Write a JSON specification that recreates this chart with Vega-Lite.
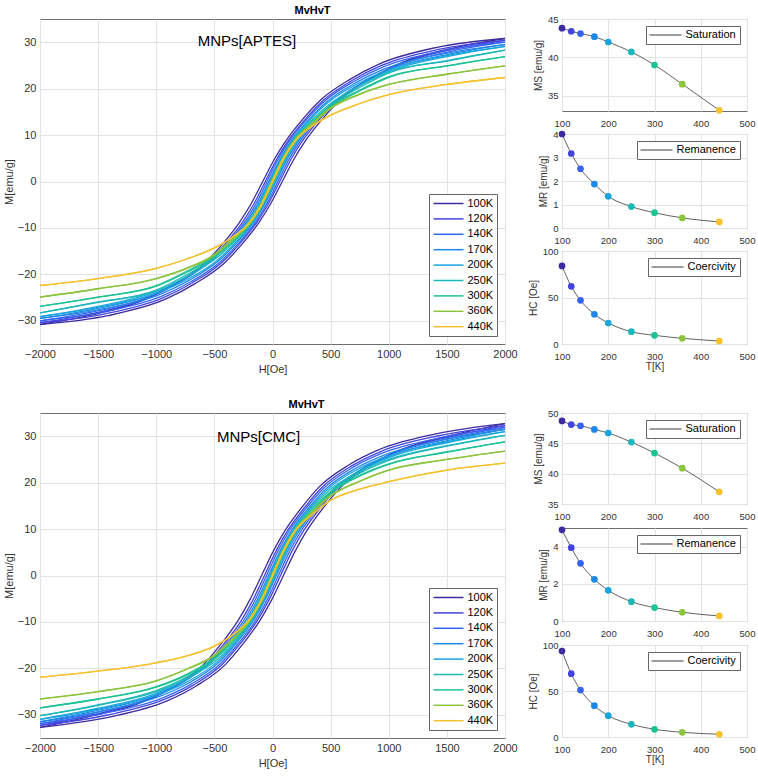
{
"$schema":"https://vega.github.io/schema/vega-lite/v6.json",
"padding":{"left":2,"top":4,"right":3,"bottom":5},
"config":{"font":"Liberation Sans","view":{"stroke":"#6e6e6e","strokeWidth":1},
"axis":{"domain":false,"ticks":false,"grid":true,"gridColor":"#e2e2e2","labelColor":"#333","titleColor":"#333","labelPadding":4,"titleFontWeight":"normal","labelFlush":false,"labelOverlap":false},
"title":{"font":"Liberation Sans"}},
"datasets":{
"par":[
{"p":"A","T":"100K","t":100,"Ms":43.8,"Mr":4.0,"Hc":84},
{"p":"A","T":"120K","t":120,"Ms":43.4,"Mr":3.17,"Hc":62},
{"p":"A","T":"140K","t":140,"Ms":43.1,"Mr":2.52,"Hc":47},
{"p":"A","T":"170K","t":170,"Ms":42.7,"Mr":1.87,"Hc":32},
{"p":"A","T":"200K","t":200,"Ms":42.0,"Mr":1.35,"Hc":22.6},
{"p":"A","T":"250K","t":250,"Ms":40.7,"Mr":0.91,"Hc":13.2},
{"p":"A","T":"300K","t":300,"Ms":39.0,"Mr":0.65,"Hc":9.3},
{"p":"A","T":"360K","t":360,"Ms":36.5,"Mr":0.43,"Hc":6.1},
{"p":"A","T":"440K","t":440,"Ms":33.1,"Mr":0.26,"Hc":3.2},
{"p":"B","T":"100K","t":100,"Ms":48.7,"Mr":4.9,"Hc":93.5},
{"p":"B","T":"120K","t":120,"Ms":48.1,"Mr":3.94,"Hc":68.8},
{"p":"B","T":"140K","t":140,"Ms":47.9,"Mr":3.1,"Hc":51},
{"p":"B","T":"170K","t":170,"Ms":47.3,"Mr":2.24,"Hc":34},
{"p":"B","T":"200K","t":200,"Ms":46.7,"Mr":1.65,"Hc":23.2},
{"p":"B","T":"250K","t":250,"Ms":45.2,"Mr":1.04,"Hc":13.8},
{"p":"B","T":"300K","t":300,"Ms":43.4,"Mr":0.72,"Hc":8.4},
{"p":"B","T":"360K","t":360,"Ms":40.9,"Mr":0.47,"Hc":5.1},
{"p":"B","T":"440K","t":440,"Ms":37.0,"Mr":0.27,"Hc":3.0}
],
"loops":[
{"p":"A","T":"100K","M":-30.8,"u":-2000,"d":-2000},{"p":"A","T":"100K","M":-28.9,"u":-1416,"d":-1584},{"p":"A","T":"100K","M":-25.3,"u":-916,"d":-1084},{"p":"A","T":"100K","M":-22,"u":-666,"d":-834},{"p":"A","T":"100K","M":-17.6,"u":-416,"d":-584},{"p":"A","T":"100K","M":-13.6,"u":-266,"d":-434},{"p":"A","T":"100K","M":-8.8,"u":-116,"d":-284},{"p":"A","T":"100K","M":-4.8,"u":-16,"d":-184},{"p":"A","T":"100K","M":0,"u":84,"d":-84},{"p":"A","T":"100K","M":4.8,"u":184,"d":16},{"p":"A","T":"100K","M":8.8,"u":284,"d":116},{"p":"A","T":"100K","M":13.6,"u":434,"d":266},{"p":"A","T":"100K","M":17.6,"u":584,"d":416},{"p":"A","T":"100K","M":22,"u":834,"d":666},{"p":"A","T":"100K","M":25.3,"u":1084,"d":916},{"p":"A","T":"100K","M":28.9,"u":1584,"d":1416},{"p":"A","T":"100K","M":30.8,"u":2000,"d":2000},
{"p":"A","T":"120K","M":-30.4,"u":-2000,"d":-2000},{"p":"A","T":"120K","M":-28.5,"u":-1438,"d":-1562},{"p":"A","T":"120K","M":-25,"u":-938,"d":-1062},{"p":"A","T":"120K","M":-21.8,"u":-688,"d":-812},{"p":"A","T":"120K","M":-17.5,"u":-438,"d":-562},{"p":"A","T":"120K","M":-13.6,"u":-288,"d":-412},{"p":"A","T":"120K","M":-8.9,"u":-138,"d":-262},{"p":"A","T":"120K","M":-4.9,"u":-38,"d":-162},{"p":"A","T":"120K","M":0,"u":62,"d":-62},{"p":"A","T":"120K","M":4.9,"u":162,"d":38},{"p":"A","T":"120K","M":8.9,"u":262,"d":138},{"p":"A","T":"120K","M":13.6,"u":412,"d":288},{"p":"A","T":"120K","M":17.5,"u":562,"d":438},{"p":"A","T":"120K","M":21.8,"u":812,"d":688},{"p":"A","T":"120K","M":25,"u":1062,"d":938},{"p":"A","T":"120K","M":28.5,"u":1562,"d":1438},{"p":"A","T":"120K","M":30.4,"u":2000,"d":2000},
{"p":"A","T":"140K","M":-30,"u":-2000,"d":-2000},{"p":"A","T":"140K","M":-28.1,"u":-1453,"d":-1547},{"p":"A","T":"140K","M":-24.7,"u":-953,"d":-1047},{"p":"A","T":"140K","M":-21.6,"u":-703,"d":-797},{"p":"A","T":"140K","M":-17.4,"u":-453,"d":-547},{"p":"A","T":"140K","M":-13.6,"u":-303,"d":-397},{"p":"A","T":"140K","M":-9,"u":-153,"d":-247},{"p":"A","T":"140K","M":-5,"u":-53,"d":-147},{"p":"A","T":"140K","M":0,"u":47,"d":-47},{"p":"A","T":"140K","M":5,"u":147,"d":53},{"p":"A","T":"140K","M":9,"u":247,"d":153},{"p":"A","T":"140K","M":13.6,"u":397,"d":303},{"p":"A","T":"140K","M":17.4,"u":547,"d":453},{"p":"A","T":"140K","M":21.6,"u":797,"d":703},{"p":"A","T":"140K","M":24.7,"u":1047,"d":953},{"p":"A","T":"140K","M":28.1,"u":1547,"d":1453},{"p":"A","T":"140K","M":30,"u":2000,"d":2000},
{"p":"A","T":"170K","M":-29.5,"u":-2000,"d":-2000},{"p":"A","T":"170K","M":-27.5,"u":-1468,"d":-1532},{"p":"A","T":"170K","M":-24.3,"u":-968,"d":-1032},{"p":"A","T":"170K","M":-21.3,"u":-718,"d":-782},{"p":"A","T":"170K","M":-17.2,"u":-468,"d":-532},{"p":"A","T":"170K","M":-13.5,"u":-318,"d":-382},{"p":"A","T":"170K","M":-9,"u":-168,"d":-232},{"p":"A","T":"170K","M":-5,"u":-68,"d":-132},{"p":"A","T":"170K","M":0,"u":32,"d":-32},{"p":"A","T":"170K","M":5,"u":132,"d":68},{"p":"A","T":"170K","M":9,"u":232,"d":168},{"p":"A","T":"170K","M":13.5,"u":382,"d":318},{"p":"A","T":"170K","M":17.2,"u":532,"d":468},{"p":"A","T":"170K","M":21.3,"u":782,"d":718},{"p":"A","T":"170K","M":24.3,"u":1032,"d":968},{"p":"A","T":"170K","M":27.5,"u":1532,"d":1468},{"p":"A","T":"170K","M":29.5,"u":2000,"d":2000},
{"p":"A","T":"200K","M":-29.1,"u":-2000,"d":-2000},{"p":"A","T":"200K","M":-27,"u":-1477,"d":-1523},{"p":"A","T":"200K","M":-23.9,"u":-977,"d":-1023},{"p":"A","T":"200K","M":-21,"u":-727,"d":-773},{"p":"A","T":"200K","M":-17,"u":-477,"d":-523},{"p":"A","T":"200K","M":-13.4,"u":-327,"d":-373},{"p":"A","T":"200K","M":-9.1,"u":-177,"d":-223},{"p":"A","T":"200K","M":-5.1,"u":-77,"d":-123},{"p":"A","T":"200K","M":0,"u":23,"d":-23},{"p":"A","T":"200K","M":5.1,"u":123,"d":77},{"p":"A","T":"200K","M":9.1,"u":223,"d":177},{"p":"A","T":"200K","M":13.4,"u":373,"d":327},{"p":"A","T":"200K","M":17,"u":523,"d":477},{"p":"A","T":"200K","M":21,"u":773,"d":727},{"p":"A","T":"200K","M":23.9,"u":1023,"d":977},{"p":"A","T":"200K","M":27,"u":1523,"d":1477},{"p":"A","T":"200K","M":29.1,"u":2000,"d":2000},
{"p":"A","T":"250K","M":-28.3,"u":-2000,"d":-2000},{"p":"A","T":"250K","M":-26,"u":-1487,"d":-1513},{"p":"A","T":"250K","M":-23.5,"u":-987,"d":-1013},{"p":"A","T":"250K","M":-20.4,"u":-737,"d":-763},{"p":"A","T":"250K","M":-16.6,"u":-487,"d":-513},{"p":"A","T":"250K","M":-13.2,"u":-337,"d":-363},{"p":"A","T":"250K","M":-9.1,"u":-187,"d":-213},{"p":"A","T":"250K","M":-5.1,"u":-87,"d":-113},{"p":"A","T":"250K","M":0,"u":13,"d":-13},{"p":"A","T":"250K","M":5.1,"u":113,"d":87},{"p":"A","T":"250K","M":9.1,"u":213,"d":187},{"p":"A","T":"250K","M":13.2,"u":363,"d":337},{"p":"A","T":"250K","M":16.6,"u":513,"d":487},{"p":"A","T":"250K","M":20.4,"u":763,"d":737},{"p":"A","T":"250K","M":23.5,"u":1013,"d":987},{"p":"A","T":"250K","M":26,"u":1513,"d":1487},{"p":"A","T":"250K","M":28.3,"u":2000,"d":2000},
{"p":"A","T":"300K","M":-26.9,"u":-2000,"d":-2000},{"p":"A","T":"300K","M":-24.9,"u":-1491,"d":-1509},{"p":"A","T":"300K","M":-22.5,"u":-991,"d":-1009},{"p":"A","T":"300K","M":-19.6,"u":-741,"d":-759},{"p":"A","T":"300K","M":-16.1,"u":-491,"d":-509},{"p":"A","T":"300K","M":-13,"u":-341,"d":-359},{"p":"A","T":"300K","M":-9.1,"u":-191,"d":-209},{"p":"A","T":"300K","M":-5.2,"u":-91,"d":-109},{"p":"A","T":"300K","M":0,"u":9,"d":-9},{"p":"A","T":"300K","M":5.2,"u":109,"d":91},{"p":"A","T":"300K","M":9.1,"u":209,"d":191},{"p":"A","T":"300K","M":13,"u":359,"d":341},{"p":"A","T":"300K","M":16.1,"u":509,"d":491},{"p":"A","T":"300K","M":19.6,"u":759,"d":741},{"p":"A","T":"300K","M":22.5,"u":1009,"d":991},{"p":"A","T":"300K","M":24.9,"u":1509,"d":1491},{"p":"A","T":"300K","M":26.9,"u":2000,"d":2000},
{"p":"A","T":"360K","M":-24.9,"u":-2000,"d":-2000},{"p":"A","T":"360K","M":-23.1,"u":-1494,"d":-1506},{"p":"A","T":"360K","M":-20.9,"u":-994,"d":-1006},{"p":"A","T":"360K","M":-18.8,"u":-744,"d":-756},{"p":"A","T":"360K","M":-15.8,"u":-494,"d":-506},{"p":"A","T":"360K","M":-12.6,"u":-344,"d":-356},{"p":"A","T":"360K","M":-9,"u":-194,"d":-206},{"p":"A","T":"360K","M":-5.2,"u":-94,"d":-106},{"p":"A","T":"360K","M":0,"u":6,"d":-6},{"p":"A","T":"360K","M":5.2,"u":106,"d":94},{"p":"A","T":"360K","M":9,"u":206,"d":194},{"p":"A","T":"360K","M":12.6,"u":356,"d":344},{"p":"A","T":"360K","M":15.8,"u":506,"d":494},{"p":"A","T":"360K","M":18.8,"u":756,"d":744},{"p":"A","T":"360K","M":20.9,"u":1006,"d":994},{"p":"A","T":"360K","M":23.1,"u":1506,"d":1494},{"p":"A","T":"360K","M":24.9,"u":2000,"d":2000},
{"p":"A","T":"440K","M":-22.4,"u":-2000,"d":-2000},{"p":"A","T":"440K","M":-20.9,"u":-1497,"d":-1503},{"p":"A","T":"440K","M":-18.7,"u":-997,"d":-1003},{"p":"A","T":"440K","M":-16.8,"u":-747,"d":-753},{"p":"A","T":"440K","M":-14.3,"u":-497,"d":-503},{"p":"A","T":"440K","M":-12.1,"u":-347,"d":-353},{"p":"A","T":"440K","M":-8.9,"u":-197,"d":-203},{"p":"A","T":"440K","M":-5.2,"u":-97,"d":-103},{"p":"A","T":"440K","M":0,"u":3,"d":-3},{"p":"A","T":"440K","M":5.2,"u":103,"d":97},{"p":"A","T":"440K","M":8.9,"u":203,"d":197},{"p":"A","T":"440K","M":12.1,"u":353,"d":347},{"p":"A","T":"440K","M":14.3,"u":503,"d":497},{"p":"A","T":"440K","M":16.8,"u":753,"d":747},{"p":"A","T":"440K","M":18.7,"u":1003,"d":997},{"p":"A","T":"440K","M":20.9,"u":1503,"d":1497},{"p":"A","T":"440K","M":22.4,"u":2000,"d":2000},
{"p":"B","T":"100K","M":-32.7,"u":-2000,"d":-2000},{"p":"B","T":"100K","M":-30.5,"u":-1406,"d":-1594},{"p":"B","T":"100K","M":-27,"u":-906,"d":-1094},{"p":"B","T":"100K","M":-23.8,"u":-656,"d":-844},{"p":"B","T":"100K","M":-19.2,"u":-406,"d":-594},{"p":"B","T":"100K","M":-14.8,"u":-256,"d":-444},{"p":"B","T":"100K","M":-9.6,"u":-106,"d":-294},{"p":"B","T":"100K","M":-5.2,"u":-6,"d":-194},{"p":"B","T":"100K","M":0,"u":94,"d":-94},{"p":"B","T":"100K","M":5.2,"u":194,"d":6},{"p":"B","T":"100K","M":9.6,"u":294,"d":106},{"p":"B","T":"100K","M":14.8,"u":444,"d":256},{"p":"B","T":"100K","M":19.2,"u":594,"d":406},{"p":"B","T":"100K","M":23.8,"u":844,"d":656},{"p":"B","T":"100K","M":27,"u":1094,"d":906},{"p":"B","T":"100K","M":30.5,"u":1594,"d":1406},{"p":"B","T":"100K","M":32.7,"u":2000,"d":2000},
{"p":"B","T":"120K","M":-32.3,"u":-2000,"d":-2000},{"p":"B","T":"120K","M":-30.1,"u":-1431,"d":-1569},{"p":"B","T":"120K","M":-26.7,"u":-931,"d":-1069},{"p":"B","T":"120K","M":-23.6,"u":-681,"d":-819},{"p":"B","T":"120K","M":-19.1,"u":-431,"d":-569},{"p":"B","T":"120K","M":-14.8,"u":-281,"d":-419},{"p":"B","T":"120K","M":-9.7,"u":-131,"d":-269},{"p":"B","T":"120K","M":-5.3,"u":-31,"d":-169},{"p":"B","T":"120K","M":0,"u":69,"d":-69},{"p":"B","T":"120K","M":5.3,"u":169,"d":31},{"p":"B","T":"120K","M":9.7,"u":269,"d":131},{"p":"B","T":"120K","M":14.8,"u":419,"d":281},{"p":"B","T":"120K","M":19.1,"u":569,"d":431},{"p":"B","T":"120K","M":23.6,"u":819,"d":681},{"p":"B","T":"120K","M":26.7,"u":1069,"d":931},{"p":"B","T":"120K","M":30.1,"u":1569,"d":1431},{"p":"B","T":"120K","M":32.3,"u":2000,"d":2000},
{"p":"B","T":"140K","M":-31.9,"u":-2000,"d":-2000},{"p":"B","T":"140K","M":-29.7,"u":-1449,"d":-1551},{"p":"B","T":"140K","M":-26.4,"u":-949,"d":-1051},{"p":"B","T":"140K","M":-23.4,"u":-699,"d":-801},{"p":"B","T":"140K","M":-19,"u":-449,"d":-551},{"p":"B","T":"140K","M":-14.8,"u":-299,"d":-401},{"p":"B","T":"140K","M":-9.8,"u":-149,"d":-251},{"p":"B","T":"140K","M":-5.4,"u":-49,"d":-151},{"p":"B","T":"140K","M":0,"u":51,"d":-51},{"p":"B","T":"140K","M":5.4,"u":151,"d":49},{"p":"B","T":"140K","M":9.8,"u":251,"d":149},{"p":"B","T":"140K","M":14.8,"u":401,"d":299},{"p":"B","T":"140K","M":19,"u":551,"d":449},{"p":"B","T":"140K","M":23.4,"u":801,"d":699},{"p":"B","T":"140K","M":26.4,"u":1051,"d":949},{"p":"B","T":"140K","M":29.7,"u":1551,"d":1449},{"p":"B","T":"140K","M":31.9,"u":2000,"d":2000},
{"p":"B","T":"170K","M":-31.5,"u":-2000,"d":-2000},{"p":"B","T":"170K","M":-29.2,"u":-1466,"d":-1534},{"p":"B","T":"170K","M":-26,"u":-966,"d":-1034},{"p":"B","T":"170K","M":-23.1,"u":-716,"d":-784},{"p":"B","T":"170K","M":-18.8,"u":-466,"d":-534},{"p":"B","T":"170K","M":-14.7,"u":-316,"d":-384},{"p":"B","T":"170K","M":-9.8,"u":-166,"d":-234},{"p":"B","T":"170K","M":-5.4,"u":-66,"d":-134},{"p":"B","T":"170K","M":0,"u":34,"d":-34},{"p":"B","T":"170K","M":5.4,"u":134,"d":66},{"p":"B","T":"170K","M":9.8,"u":234,"d":166},{"p":"B","T":"170K","M":14.7,"u":384,"d":316},{"p":"B","T":"170K","M":18.8,"u":534,"d":466},{"p":"B","T":"170K","M":23.1,"u":784,"d":716},{"p":"B","T":"170K","M":26,"u":1034,"d":966},{"p":"B","T":"170K","M":29.2,"u":1534,"d":1466},{"p":"B","T":"170K","M":31.5,"u":2000,"d":2000},
{"p":"B","T":"200K","M":-31,"u":-2000,"d":-2000},{"p":"B","T":"200K","M":-28.7,"u":-1477,"d":-1523},{"p":"B","T":"200K","M":-25.6,"u":-977,"d":-1023},{"p":"B","T":"200K","M":-22.8,"u":-727,"d":-773},{"p":"B","T":"200K","M":-18.6,"u":-477,"d":-523},{"p":"B","T":"200K","M":-14.6,"u":-327,"d":-373},{"p":"B","T":"200K","M":-9.9,"u":-177,"d":-223},{"p":"B","T":"200K","M":-5.5,"u":-77,"d":-123},{"p":"B","T":"200K","M":0,"u":23,"d":-23},{"p":"B","T":"200K","M":5.5,"u":123,"d":77},{"p":"B","T":"200K","M":9.9,"u":223,"d":177},{"p":"B","T":"200K","M":14.6,"u":373,"d":327},{"p":"B","T":"200K","M":18.6,"u":523,"d":477},{"p":"B","T":"200K","M":22.8,"u":773,"d":727},{"p":"B","T":"200K","M":25.6,"u":1023,"d":977},{"p":"B","T":"200K","M":28.7,"u":1523,"d":1477},{"p":"B","T":"200K","M":31,"u":2000,"d":2000},
{"p":"B","T":"250K","M":-30.2,"u":-2000,"d":-2000},{"p":"B","T":"250K","M":-27.9,"u":-1486,"d":-1514},{"p":"B","T":"250K","M":-24.9,"u":-986,"d":-1014},{"p":"B","T":"250K","M":-22.2,"u":-736,"d":-764},{"p":"B","T":"250K","M":-18.3,"u":-486,"d":-514},{"p":"B","T":"250K","M":-14.5,"u":-336,"d":-364},{"p":"B","T":"250K","M":-9.9,"u":-186,"d":-214},{"p":"B","T":"250K","M":-5.5,"u":-86,"d":-114},{"p":"B","T":"250K","M":0,"u":14,"d":-14},{"p":"B","T":"250K","M":5.5,"u":114,"d":86},{"p":"B","T":"250K","M":9.9,"u":214,"d":186},{"p":"B","T":"250K","M":14.5,"u":364,"d":336},{"p":"B","T":"250K","M":18.3,"u":514,"d":486},{"p":"B","T":"250K","M":22.2,"u":764,"d":736},{"p":"B","T":"250K","M":24.9,"u":1014,"d":986},{"p":"B","T":"250K","M":27.9,"u":1514,"d":1486},{"p":"B","T":"250K","M":30.2,"u":2000,"d":2000},
{"p":"B","T":"300K","M":-28.5,"u":-2000,"d":-2000},{"p":"B","T":"300K","M":-26.6,"u":-1492,"d":-1508},{"p":"B","T":"300K","M":-24,"u":-992,"d":-1008},{"p":"B","T":"300K","M":-21.5,"u":-742,"d":-758},{"p":"B","T":"300K","M":-17.9,"u":-492,"d":-508},{"p":"B","T":"300K","M":-14.3,"u":-342,"d":-358},{"p":"B","T":"300K","M":-9.9,"u":-192,"d":-208},{"p":"B","T":"300K","M":-5.6,"u":-92,"d":-108},{"p":"B","T":"300K","M":0,"u":8,"d":-8},{"p":"B","T":"300K","M":5.6,"u":108,"d":92},{"p":"B","T":"300K","M":9.9,"u":208,"d":192},{"p":"B","T":"300K","M":14.3,"u":358,"d":342},{"p":"B","T":"300K","M":17.9,"u":508,"d":492},{"p":"B","T":"300K","M":21.5,"u":758,"d":742},{"p":"B","T":"300K","M":24,"u":1008,"d":992},{"p":"B","T":"300K","M":26.6,"u":1508,"d":1492},{"p":"B","T":"300K","M":28.8,"u":2000,"d":2000},
{"p":"B","T":"360K","M":-26.6,"u":-2000,"d":-2000},{"p":"B","T":"360K","M":-25,"u":-1495,"d":-1505},{"p":"B","T":"360K","M":-22.7,"u":-995,"d":-1005},{"p":"B","T":"360K","M":-20.3,"u":-745,"d":-755},{"p":"B","T":"360K","M":-17.2,"u":-495,"d":-505},{"p":"B","T":"360K","M":-13.9,"u":-345,"d":-355},{"p":"B","T":"360K","M":-9.8,"u":-195,"d":-205},{"p":"B","T":"360K","M":-5.6,"u":-95,"d":-105},{"p":"B","T":"360K","M":0,"u":5,"d":-5},{"p":"B","T":"360K","M":5.6,"u":105,"d":95},{"p":"B","T":"360K","M":9.8,"u":205,"d":195},{"p":"B","T":"360K","M":13.9,"u":355,"d":345},{"p":"B","T":"360K","M":17.2,"u":505,"d":495},{"p":"B","T":"360K","M":20.3,"u":755,"d":745},{"p":"B","T":"360K","M":22.7,"u":1005,"d":995},{"p":"B","T":"360K","M":25,"u":1505,"d":1495},{"p":"B","T":"360K","M":26.8,"u":2000,"d":2000},
{"p":"B","T":"440K","M":-21.9,"u":-2000,"d":-2000},{"p":"B","T":"440K","M":-20.6,"u":-1497,"d":-1503},{"p":"B","T":"440K","M":-18.8,"u":-997,"d":-1003},{"p":"B","T":"440K","M":-17.4,"u":-747,"d":-753},{"p":"B","T":"440K","M":-15.2,"u":-497,"d":-503},{"p":"B","T":"440K","M":-12.9,"u":-347,"d":-353},{"p":"B","T":"440K","M":-9.5,"u":-197,"d":-203},{"p":"B","T":"440K","M":-5.5,"u":-97,"d":-103},{"p":"B","T":"440K","M":0,"u":3,"d":-3},{"p":"B","T":"440K","M":5.6,"u":103,"d":97},{"p":"B","T":"440K","M":9.8,"u":203,"d":197},{"p":"B","T":"440K","M":13.3,"u":353,"d":347},{"p":"B","T":"440K","M":16.2,"u":503,"d":497},{"p":"B","T":"440K","M":18.6,"u":753,"d":747},{"p":"B","T":"440K","M":20.2,"u":1003,"d":997},{"p":"B","T":"440K","M":22.7,"u":1503,"d":1497},{"p":"B","T":"440K","M":24.2,"u":2000,"d":2000}
]},
"spacing":23,
"resolve":{"scale":{"color":"independent","fill":"independent","stroke":"independent"},"legend":{"color":"independent","fill":"independent","stroke":"independent"}},
"vconcat":[
{"hconcat":[
 {"width":465,"height":325,
  "title":{"text":"MvHvT","fontSize":11,"fontWeight":"bold","color":"#000","dx":40,"offset":3},
  "layer":[
   {"data":{"name":"loops"},"transform":[{"filter":"datum.p=='A'"},{"fold":["u","d"],"as":["b","H"]}],
    "mark":{"type":"line","strokeWidth":1.3,"interpolate":"monotone"},
    "encoding":{
     "x":{"field":"H","type":"quantitative","scale":{"domain":[-2000,2000],"nice":false},"axis":{"values":[-2000,-1500,-1000,-500,0,500,1000,1500,2000],"format":"d","title":"H[Oe]","labelFontSize":11,"titleFontSize":11,"titlePadding":4}},
     "y":{"field":"M","type":"quantitative","scale":{"domain":[-35,35],"nice":false},"axis":{"values":[-30,-20,-10,0,10,20,30],"title":"M[emu/g]","labelFontSize":11,"titleFontSize":11,"titlePadding":3}},
     "color":{"field":"T","type":"nominal","scale":{"domain":["100K","120K","140K","170K","200K","250K","300K","360K","440K"],"range":["#3d2c9f","#4344dc","#3563ef","#1e86e5","#18a5de","#1cb8bb","#1dc394","#8cc43e","#f5c12d"]},
      "legend":{"title":null,"orient":"bottom-right","offset":8,"symbolType":"M-3,0H3","symbolSize":100,"symbolStrokeWidth":1.5,"symbolOffset":10,"labelOffset":13,"labelFontSize":11,"labelColor":"#000","rowPadding":4.4,"strokeColor":"#666","fillColor":"#fff","padding":3.5}},
     "detail":{"field":"b"}}},
   {"data":{"values":[{"lab":"MNPs[APTES]"}]},
    "mark":{"type":"text","fontSize":15,"color":"#000","align":"center","baseline":"middle"},
    "encoding":{"x":{"datum":-220},"y":{"datum":30.3},"text":{"field":"lab"}}}
  ]},
 {"vconcat":[
  {"width":185,"height":92,"data":{"name":"par"},"transform":[{"filter":"datum.p=='A'"}],
   "encoding":{"x":{"field":"t","type":"quantitative","scale":{"domain":[100,500],"nice":false},"axis":{"values":[100,200,300,400,500],"title":null,"labelFontSize":9.5,"labelPadding":7,"labelOverlap":false}},
      "y":{"field":"Ms","type":"quantitative","scale":{"domain":[33,45],"nice":false,"zero":false},"axis":{"values":[35,40,45],"title":"MS [emu/g]","labelFontSize":9.5,"titleFontSize":10,"labelOverlap":false}}},
   "layer":[
    {"mark":{"type":"line","interpolate":"monotone","strokeWidth":0.8},
     "encoding":{"stroke":{"datum":"Saturation","type":"nominal","scale":{"range":["#3a3a3a"]},"legend":{"title":null,"orient":"top-right","offset":7,"symbolType":"M-3.2,0H3.2","symbolSize":100,"symbolStrokeWidth":1,"symbolOffset":10.5,"labelOffset":14.5,"labelFontSize":11,"labelColor":"#000","strokeColor":"#666","fillColor":"#fff","padding":3.5}}}},
    {"mark":{"type":"circle","size":45,"opacity":1},
     "encoding":{"fill":{"field":"T","type":"nominal","scale":{"domain":["100K","120K","140K","170K","200K","250K","300K","360K","440K"],"range":["#3d2c9f","#4344dc","#3563ef","#1e86e5","#18a5de","#1cb8bb","#1dc394","#8cc43e","#f5c12d"]},"legend":null}}}
   ]},
  {"width":185,"height":94,"data":{"name":"par"},"transform":[{"filter":"datum.p=='A'"}],
   "encoding":{"x":{"field":"t","type":"quantitative","scale":{"domain":[100,500],"nice":false},"axis":{"values":[100,200,300,400,500],"title":null,"labelFontSize":9.5,"labelPadding":7,"labelOverlap":false}},
      "y":{"field":"Mr","type":"quantitative","scale":{"domain":[0,4],"nice":false},"axis":{"values":[0,1,2,3,4],"title":"MR [emu/g]","labelFontSize":9.5,"titleFontSize":10,"labelOverlap":false}}},
   "layer":[
    {"mark":{"type":"line","interpolate":"monotone","strokeWidth":0.8},
     "encoding":{"stroke":{"datum":"Remanence","type":"nominal","scale":{"range":["#3a3a3a"]},"legend":{"title":null,"orient":"top-right","offset":7,"symbolType":"M-3.2,0H3.2","symbolSize":100,"symbolStrokeWidth":1,"symbolOffset":10.5,"labelOffset":14.5,"labelFontSize":11,"labelColor":"#000","strokeColor":"#666","fillColor":"#fff","padding":3.5}}}},
    {"mark":{"type":"circle","size":45,"opacity":1},
     "encoding":{"fill":{"field":"T","type":"nominal","scale":{"domain":["100K","120K","140K","170K","200K","250K","300K","360K","440K"],"range":["#3d2c9f","#4344dc","#3563ef","#1e86e5","#18a5de","#1cb8bb","#1dc394","#8cc43e","#f5c12d"]},"legend":null}}}
   ]},
  {"width":185,"height":93,"data":{"name":"par"},"transform":[{"filter":"datum.p=='A'"}],
   "encoding":{"x":{"field":"t","type":"quantitative","scale":{"domain":[100,500],"nice":false},"axis":{"values":[100,200,300,400,500],"title":"T[K]","labelFontSize":9.5,"labelPadding":7,"titleFontSize":10,"titlePadding":1,"labelOverlap":false}},
      "y":{"field":"Hc","type":"quantitative","scale":{"domain":[0,100],"nice":false},"axis":{"values":[0,50,100],"title":"HC [Oe]","labelFontSize":9.5,"titleFontSize":10,"labelOverlap":false}}},
   "layer":[
    {"mark":{"type":"line","interpolate":"monotone","strokeWidth":0.8},
     "encoding":{"stroke":{"datum":"Coercivity","type":"nominal","scale":{"range":["#3a3a3a"]},"legend":{"title":null,"orient":"top-right","offset":7,"symbolType":"M-3.2,0H3.2","symbolSize":100,"symbolStrokeWidth":1,"symbolOffset":10.5,"labelOffset":14.5,"labelFontSize":11,"labelColor":"#000","strokeColor":"#666","fillColor":"#fff","padding":3.5}}}},
    {"mark":{"type":"circle","size":45,"opacity":1},
     "encoding":{"fill":{"field":"T","type":"nominal","scale":{"domain":["100K","120K","140K","170K","200K","250K","300K","360K","440K"],"range":["#3d2c9f","#4344dc","#3563ef","#1e86e5","#18a5de","#1cb8bb","#1dc394","#8cc43e","#f5c12d"]},"legend":null}}}
   ]}
 ],"spacing":23,"bounds":"flush",
 "resolve":{"scale":{"fill":"independent","stroke":"independent"},"legend":{"fill":"independent","stroke":"independent"}}}
],"spacing":57,"bounds":"flush",
"resolve":{"scale":{"color":"independent","fill":"independent","stroke":"independent"},"legend":{"color":"independent","fill":"independent","stroke":"independent"}}},
{"hconcat":[
 {"width":465,"height":325,
  "title":{"text":"MvHvT","fontSize":11,"fontWeight":"bold","color":"#000","dx":34,"offset":3},
  "layer":[
   {"data":{"name":"loops"},"transform":[{"filter":"datum.p=='B'"},{"fold":["u","d"],"as":["b","H"]}],
    "mark":{"type":"line","strokeWidth":1.3,"interpolate":"monotone"},
    "encoding":{
     "x":{"field":"H","type":"quantitative","scale":{"domain":[-2000,2000],"nice":false},"axis":{"values":[-2000,-1500,-1000,-500,0,500,1000,1500,2000],"format":"d","title":"H[Oe]","labelFontSize":11,"titleFontSize":11,"titlePadding":4}},
     "y":{"field":"M","type":"quantitative","scale":{"domain":[-35,35],"nice":false},"axis":{"values":[-30,-20,-10,0,10,20,30],"title":"M[emu/g]","labelFontSize":11,"titleFontSize":11,"titlePadding":3}},
     "color":{"field":"T","type":"nominal","scale":{"domain":["100K","120K","140K","170K","200K","250K","300K","360K","440K"],"range":["#3d2c9f","#4344dc","#3563ef","#1e86e5","#18a5de","#1cb8bb","#1dc394","#8cc43e","#f5c12d"]},
      "legend":{"title":null,"orient":"bottom-right","offset":8,"symbolType":"M-3,0H3","symbolSize":100,"symbolStrokeWidth":1.5,"symbolOffset":10,"labelOffset":13,"labelFontSize":11,"labelColor":"#000","rowPadding":4.4,"strokeColor":"#666","fillColor":"#fff","padding":3.5}},
     "detail":{"field":"b"}}},
   {"data":{"values":[{"lab":"MNPs[CMC]"}]},
    "mark":{"type":"text","fontSize":15,"color":"#000","align":"center","baseline":"middle"},
    "encoding":{"x":{"datum":-120},"y":{"datum":29.8},"text":{"field":"lab"}}}
  ]},
 {"vconcat":[
  {"width":185,"height":91,"data":{"name":"par"},"transform":[{"filter":"datum.p=='B'"}],
   "encoding":{"x":{"field":"t","type":"quantitative","scale":{"domain":[100,500],"nice":false},"axis":{"values":[100,200,300,400,500],"title":null,"labelFontSize":9.5,"labelPadding":7,"labelOverlap":false}},
      "y":{"field":"Ms","type":"quantitative","scale":{"domain":[35,50],"nice":false,"zero":false},"axis":{"values":[35,40,45,50],"title":"MS [emu/g]","labelFontSize":9.5,"titleFontSize":10,"labelOverlap":false}}},
   "layer":[
    {"mark":{"type":"line","interpolate":"monotone","strokeWidth":0.8},
     "encoding":{"stroke":{"datum":"Saturation","type":"nominal","scale":{"range":["#3a3a3a"]},"legend":{"title":null,"orient":"top-right","offset":7,"symbolType":"M-3.2,0H3.2","symbolSize":100,"symbolStrokeWidth":1,"symbolOffset":10.5,"labelOffset":14.5,"labelFontSize":11,"labelColor":"#000","strokeColor":"#666","fillColor":"#fff","padding":3.5}}}},
    {"mark":{"type":"circle","size":45,"opacity":1},
     "encoding":{"fill":{"field":"T","type":"nominal","scale":{"domain":["100K","120K","140K","170K","200K","250K","300K","360K","440K"],"range":["#3d2c9f","#4344dc","#3563ef","#1e86e5","#18a5de","#1cb8bb","#1dc394","#8cc43e","#f5c12d"]},"legend":null}}}
   ]},
  {"width":185,"height":93,"data":{"name":"par"},"transform":[{"filter":"datum.p=='B'"}],
   "encoding":{"x":{"field":"t","type":"quantitative","scale":{"domain":[100,500],"nice":false},"axis":{"values":[100,200,300,400,500],"title":null,"labelFontSize":9.5,"labelPadding":7,"labelOverlap":false}},
      "y":{"field":"Mr","type":"quantitative","scale":{"domain":[0,5],"nice":false},"axis":{"values":[0,2,4],"title":"MR [emu/g]","labelFontSize":9.5,"titleFontSize":10,"labelOverlap":false}}},
   "layer":[
    {"mark":{"type":"line","interpolate":"monotone","strokeWidth":0.8},
     "encoding":{"stroke":{"datum":"Remanence","type":"nominal","scale":{"range":["#3a3a3a"]},"legend":{"title":null,"orient":"top-right","offset":7,"symbolType":"M-3.2,0H3.2","symbolSize":100,"symbolStrokeWidth":1,"symbolOffset":10.5,"labelOffset":14.5,"labelFontSize":11,"labelColor":"#000","strokeColor":"#666","fillColor":"#fff","padding":3.5}}}},
    {"mark":{"type":"circle","size":45,"opacity":1},
     "encoding":{"fill":{"field":"T","type":"nominal","scale":{"domain":["100K","120K","140K","170K","200K","250K","300K","360K","440K"],"range":["#3d2c9f","#4344dc","#3563ef","#1e86e5","#18a5de","#1cb8bb","#1dc394","#8cc43e","#f5c12d"]},"legend":null}}}
   ]},
  {"width":185,"height":92,"data":{"name":"par"},"transform":[{"filter":"datum.p=='B'"}],
   "encoding":{"x":{"field":"t","type":"quantitative","scale":{"domain":[100,500],"nice":false},"axis":{"values":[100,200,300,400,500],"title":"T[K]","labelFontSize":9.5,"labelPadding":7,"titleFontSize":10,"titlePadding":1,"labelOverlap":false}},
      "y":{"field":"Hc","type":"quantitative","scale":{"domain":[0,100],"nice":false},"axis":{"values":[0,50,100],"title":"HC [Oe]","labelFontSize":9.5,"titleFontSize":10,"labelOverlap":false}}},
   "layer":[
    {"mark":{"type":"line","interpolate":"monotone","strokeWidth":0.8},
     "encoding":{"stroke":{"datum":"Coercivity","type":"nominal","scale":{"range":["#3a3a3a"]},"legend":{"title":null,"orient":"top-right","offset":7,"symbolType":"M-3.2,0H3.2","symbolSize":100,"symbolStrokeWidth":1,"symbolOffset":10.5,"labelOffset":14.5,"labelFontSize":11,"labelColor":"#000","strokeColor":"#666","fillColor":"#fff","padding":3.5}}}},
    {"mark":{"type":"circle","size":45,"opacity":1},
     "encoding":{"fill":{"field":"T","type":"nominal","scale":{"domain":["100K","120K","140K","170K","200K","250K","300K","360K","440K"],"range":["#3d2c9f","#4344dc","#3563ef","#1e86e5","#18a5de","#1cb8bb","#1dc394","#8cc43e","#f5c12d"]},"legend":null}}}
   ]}
 ],"spacing":24,"bounds":"flush",
 "resolve":{"scale":{"fill":"independent","stroke":"independent"},"legend":{"fill":"independent","stroke":"independent"}}}
],"spacing":57,"bounds":"flush",
"resolve":{"scale":{"color":"independent","fill":"independent","stroke":"independent"},"legend":{"color":"independent","fill":"independent","stroke":"independent"}}}
]
}
